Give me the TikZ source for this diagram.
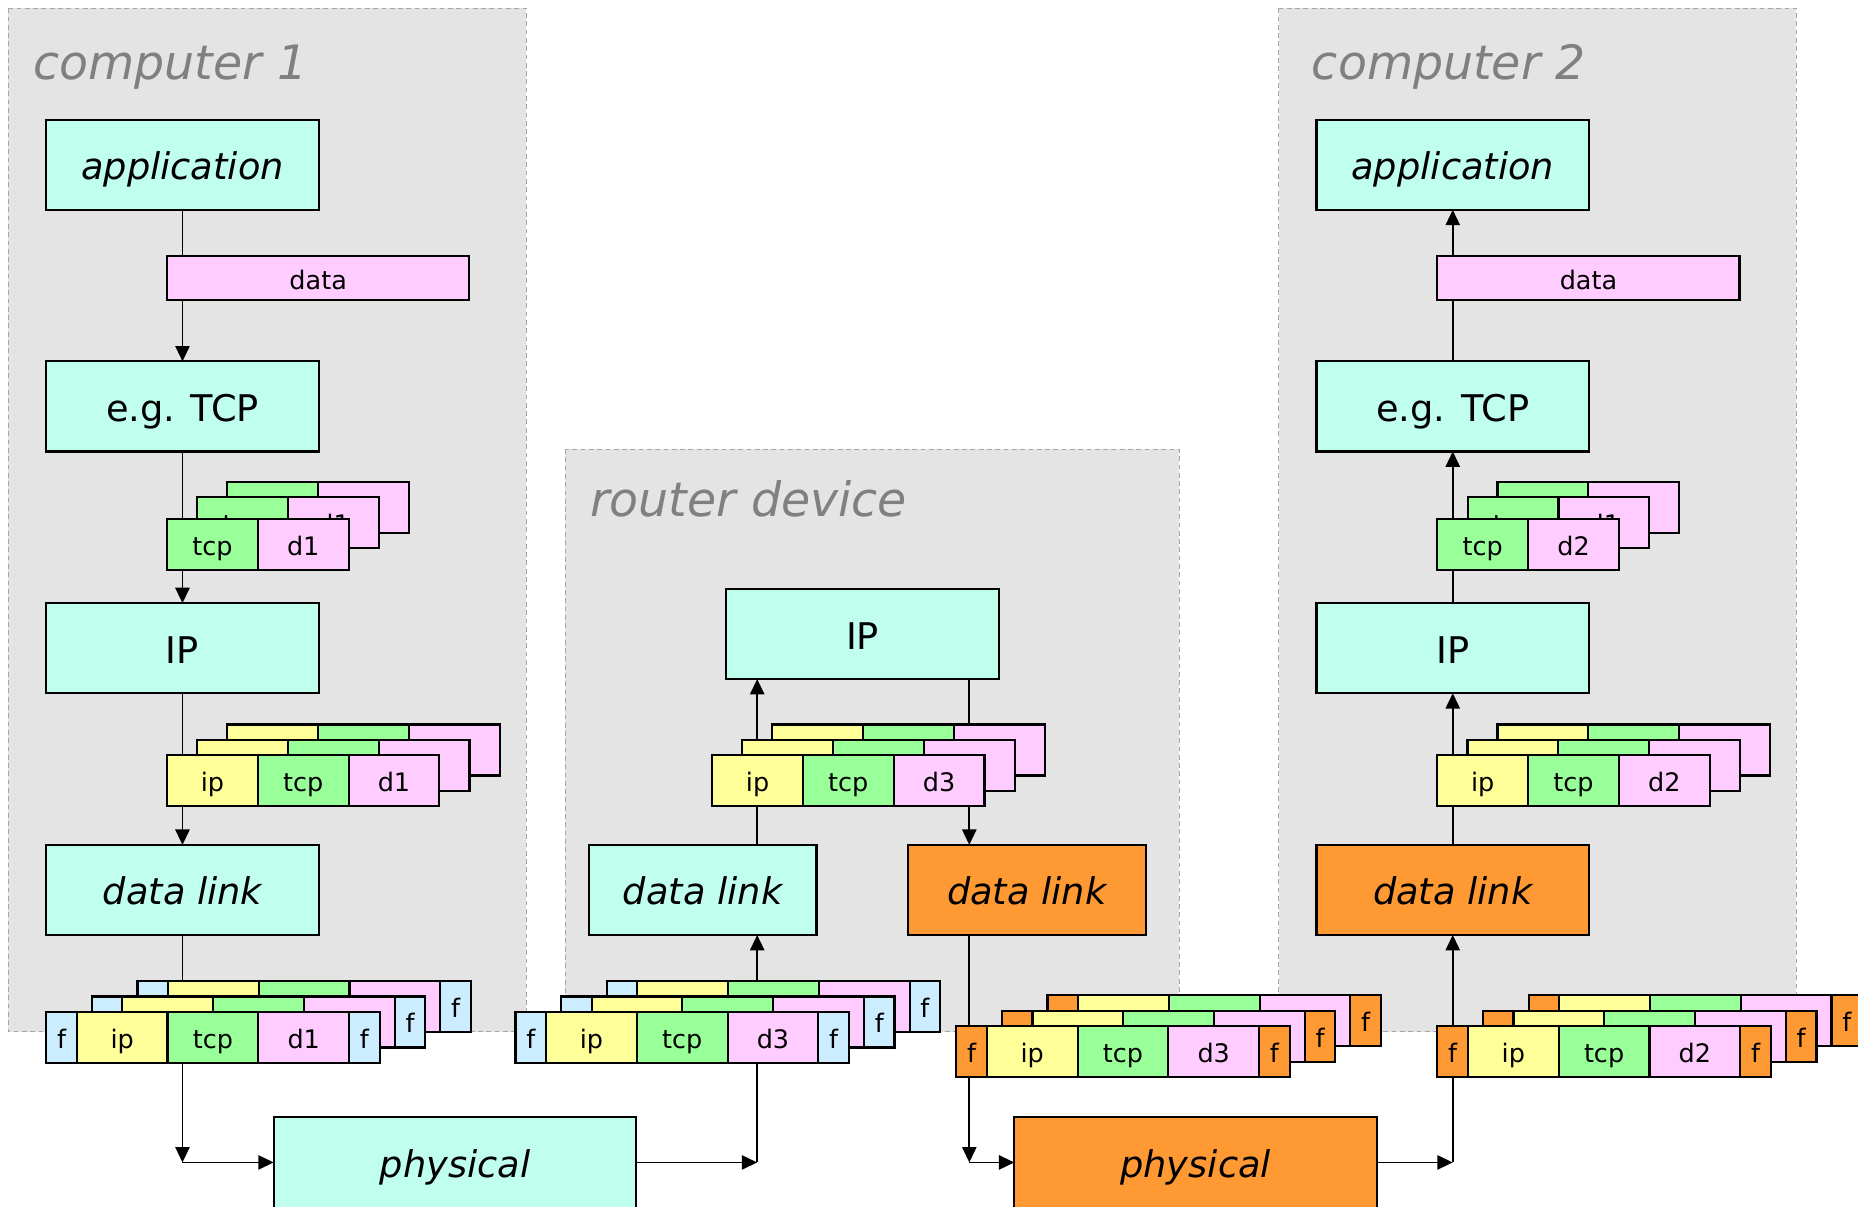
\documentclass[tikz,border=0pt]{standalone}
\usepackage{fontspec}
\setmainfont{DejaVu Sans}
\usetikzlibrary{arrows.meta, positioning}

\definecolor{layercyan}{RGB}{192,255,238}
\definecolor{layerorange}{RGB}{255,153,51}
\definecolor{hdrpink}{RGB}{255,204,255}
\definecolor{hdrgreen}{RGB}{153,255,153}
\definecolor{hdryellow}{RGB}{255,255,153}
\definecolor{framecyan}{RGB}{204,236,255}
\definecolor{panelgray}{RGB}{228,228,228}
\definecolor{titlegray}{RGB}{128,128,128}

% cell widths: frame marks and headers/payload
\newcommand{\fw}{25.8pt}
\newcommand{\hw}{76.6pt}

% one packet = a row of cells, #2 is its top-left corner
\newcommand{\packet}[3]{%
  \foreach \w/\col/\txt [count=\ci, remember=\ci as \cj (initially 0)] in {#3} {%
    \ifnum\ci=1
      \node[cell, fill=\col, minimum width=\w, anchor=north west] (#1-\ci) at #2 {\txt};
    \else
      \node[cell, fill=\col, minimum width=\w, anchor=north west] (#1-\ci) at (#1-\cj.north east) {\txt};
    \fi
  }}

% stack of packets: back copies first (offsets #3), then the front one
\newcommand{\pktstack}[5]{%
  \foreach \ox/\oy [count=\k] in {#3} {%
    \begin{scope}[shift={(\ox,\oy)}]
      \packet{#1\k}{#2}{#4}
    \end{scope}}
  \packet{#1}{#2}{#5}}

\begin{document}
\begin{tikzpicture}[x=1pt, y=-1pt,
  panel/.style={fill=panelgray, draw=gray!70, dash pattern=on 4pt off 3pt, line width=0.8pt},
  title/.style={anchor=base west, inner sep=0, text=titlegray, font=\fontsize{40}{46}\selectfont\itshape},
  layer/.style={draw, line width=1.8pt, fill=layercyan, minimum width=230pt, minimum height=76pt,
                anchor=north west, inner sep=0, outer sep=0, text height=25.4pt, text depth=0pt,
                font=\fontsize{31}{36}\selectfont},
  wire/.style={layer, minimum width=306pt, minimum height=90pt, text height=11.4pt},
  hot/.style={fill=layerorange},
  cell/.style={draw, line width=1.8pt, minimum height=43pt, inner sep=0, outer sep=0,
               text height=18.2pt, text depth=0pt, font=\fontsize{21.5}{25}\selectfont},
  arr/.style={-{Triangle[length=13pt, width=12pt]}, line width=1.6pt},
  node distance=128pt,
]
  \useasboundingbox (0,0) rectangle (1568,1018);
  \clip (0,0) rectangle (1568,1018);

  % hosts and router
  \draw[panel] (7,7) rectangle (444,870.5);
  \draw[panel] (477,379) rectangle (995,870.5);
  \draw[panel] (1079,7) rectangle (1516,870.5);
  \node[title] (host1) at (28,67) {computer 1};
  \node[title] (router) at (498,436) {router device};
  \node[title] (host2) at (1107,67) {computer 2};

  % sending stack
  \node[layer] (app1) at (39,101) {\itshape application};
  \node[layer, below=of app1] (tcp1) {e.g. TCP};
  \node[layer, below=of tcp1] (ip1) {IP};
  \node[layer, below=of ip1] (dl1) {\itshape data link};
  \node[wire] (phy1) at (231,943) {\itshape physical};

  % router
  \node[layer] (rip) at (613,497) {IP};
  \node[layer, minimum width=192pt] (rdl1) at (497,713) {\itshape data link};
  \node[layer, hot, minimum width=201pt] (rdl2) at (766,713) {\itshape data link};
  \node[wire, hot] (phy2) at (856,943) {\itshape physical};

  % receiving stack
  \node[layer] (app2) at (1111,101) {\itshape application};
  \node[layer, below=of app2] (tcp2) {e.g. TCP};
  \node[layer, below=of tcp2] (ip2) {IP};
  \node[layer, hot, below=of ip2] (dl2) {\itshape data link};

  % corners on the wire level
  \coordinate (rin) at (639,981);
  \coordinate (rout) at (818,981);
  \coordinate (turn1) at (dl1.south |- rin);
  \coordinate (turn2) at (dl2.south |- rin);

  % down through host 1
  \draw[arr] (app1) -- (tcp1);
  \draw[arr] (tcp1) -- (ip1);
  \draw[arr] (ip1) -- (dl1);
  \draw[arr] (dl1) -- (turn1);
  \draw[arr] (turn1) -- (turn1 -| phy1.west);
  % up and down through the router
  \draw[arr] (rin -| phy1.east) -- (rin);
  \draw[arr] (rin) -- (rin |- rdl1.south);
  \draw[arr] (rin |- rdl1.north) -- (rin |- rip.south);
  \draw[arr] (rout |- rip.south) -- (rout |- rdl2.north);
  \draw[arr] (rout |- rdl2.south) -- (rout);
  \draw[arr] (rout) -- (rout -| phy2.west);
  % up through host 2
  \draw[arr] (turn2 -| phy2.east) -- (turn2);
  \draw[arr] (turn2) -- (dl2);
  \draw[arr] (dl2) -- (ip2);
  \draw[arr] (ip2) -- (tcp2);
  \draw[arr] (tcp2) -- (app2);

  % application data
  \node[cell, fill=hdrpink, minimum width=255pt, minimum height=37pt, text height=20pt,
        anchor=north west] (data1) at (141,216) {data};
  \node[cell, fill=hdrpink, minimum width=255pt, minimum height=37pt, text height=20pt,
        anchor=north west] (data2) at (1213,216) {data};

  % segments
  \pktstack{seg1}{(141,438)}{50.8/-31.2, 25.6/-18.3}
    {\hw/hdrgreen/tcp, \hw/hdrpink/d1}{\hw/hdrgreen/tcp, \hw/hdrpink/d1}
  \pktstack{seg2}{(1213,438)}{50.8/-31.2, 25.6/-18.3}
    {\hw/hdrgreen/tcp, \hw/hdrpink/d1}{\hw/hdrgreen/tcp, \hw/hdrpink/d2}

  % datagrams
  \pktstack{dg1}{(141,637)}{50.8/-25.6, 25.4/-12.8}
    {\hw/hdryellow/, \hw/hdrgreen/, \hw/hdrpink/}{\hw/hdryellow/ip, \hw/hdrgreen/tcp, \hw/hdrpink/d1}
  \pktstack{dgr}{(601,637)}{50.8/-25.6, 25.4/-12.8}
    {\hw/hdryellow/, \hw/hdrgreen/, \hw/hdrpink/}{\hw/hdryellow/ip, \hw/hdrgreen/tcp, \hw/hdrpink/d3}
  \pktstack{dg2}{(1213,637)}{50.8/-25.6, 25.4/-12.8}
    {\hw/hdryellow/, \hw/hdrgreen/, \hw/hdrpink/}{\hw/hdryellow/ip, \hw/hdrgreen/tcp, \hw/hdrpink/d2}

  % frames
  \pktstack{fr1}{(39,854)}{77/-26, 38.5/-13}
    {\fw/framecyan/, \hw/hdryellow/, \hw/hdrgreen/, \hw/hdrpink/, \fw/framecyan/f}
    {\fw/framecyan/f, \hw/hdryellow/ip, \hw/hdrgreen/tcp, \hw/hdrpink/d1, \fw/framecyan/f}
  \pktstack{frra}{(435,854)}{77/-26, 38.5/-13}
    {\fw/framecyan/, \hw/hdryellow/, \hw/hdrgreen/, \hw/hdrpink/, \fw/framecyan/f}
    {\fw/framecyan/f, \hw/hdryellow/ip, \hw/hdrgreen/tcp, \hw/hdrpink/d3, \fw/framecyan/f}
  \pktstack{frrb}{(807,866)}{77/-26, 38.5/-13}
    {\fw/layerorange/, \hw/hdryellow/, \hw/hdrgreen/, \hw/hdrpink/, \fw/layerorange/f}
    {\fw/layerorange/f, \hw/hdryellow/ip, \hw/hdrgreen/tcp, \hw/hdrpink/d3, \fw/layerorange/f}
  \pktstack{fr2}{(1213,866)}{77/-26, 38.5/-13}
    {\fw/layerorange/, \hw/hdryellow/, \hw/hdrgreen/, \hw/hdrpink/, \fw/layerorange/f}
    {\fw/layerorange/f, \hw/hdryellow/ip, \hw/hdrgreen/tcp, \hw/hdrpink/d2, \fw/layerorange/f}
\end{tikzpicture}
\end{document}
